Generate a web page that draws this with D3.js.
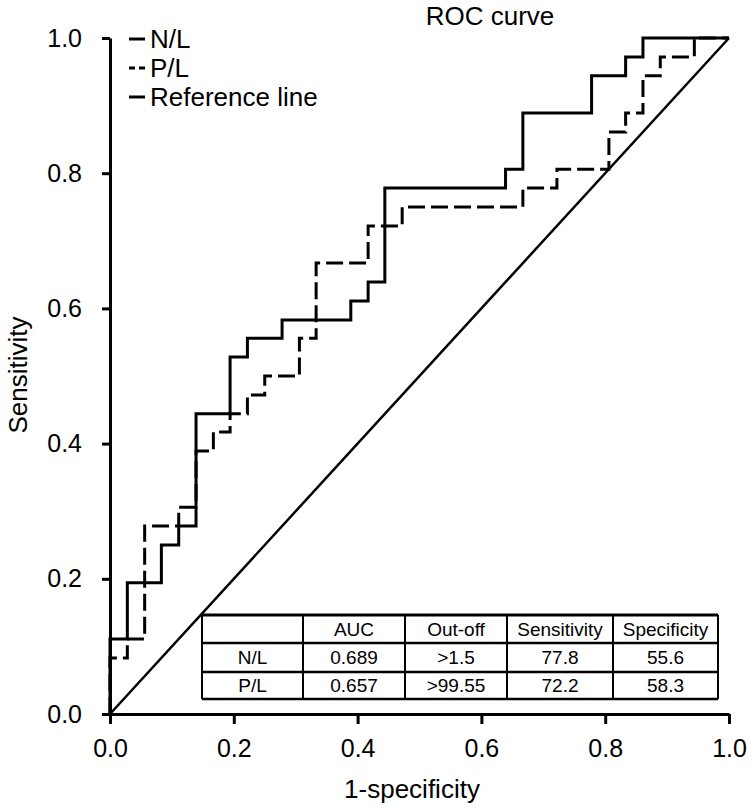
<!DOCTYPE html>
<html>
<head>
<meta charset="utf-8">
<script src="https://cdn.jsdelivr.net/npm/d3@7"></script>
<style>
  html, body { margin: 0; padding: 0; background: #fff; }
  svg { display: block; font-family: "Liberation Sans", Arial, sans-serif; }
</style>
</head>
<body>
<svg id="chart" width="755" height="808"></svg>
<script>
// ---- Data ----
const title = "ROC curve";
const xLabel = "1-specificity";
const yLabel = "Sensitivity";
const tickValues = [0, 0.2, 0.4, 0.6, 0.8, 1.0];

// N/L ROC vertices (1-specificity, sensitivity)
const nlFpr = [0, 0, 0.028, 0.028, 0.083, 0.083, 0.111, 0.111, 0.139, 0.139, 0.194, 0.194, 0.222, 0.222, 0.278, 0.278, 0.389, 0.389, 0.417, 0.417, 0.444, 0.444, 0.639, 0.639, 0.667, 0.667, 0.778, 0.778, 0.833, 0.833, 0.861, 0.861, 1.0];
const nlTpr = [0, 0.111, 0.111, 0.194, 0.194, 0.25, 0.25, 0.278, 0.278, 0.444, 0.444, 0.528, 0.528, 0.556, 0.556, 0.583, 0.583, 0.611, 0.611, 0.639, 0.639, 0.778, 0.778, 0.806, 0.806, 0.889, 0.889, 0.944, 0.944, 0.972, 0.972, 1.0, 1.0];

// P/L ROC vertices
const plFpr = [0, 0, 0.028, 0.028, 0.056, 0.056, 0.111, 0.111, 0.139, 0.139, 0.167, 0.167, 0.194, 0.194, 0.222, 0.222, 0.25, 0.25, 0.306, 0.306, 0.333, 0.333, 0.417, 0.417, 0.472, 0.472, 0.667, 0.667, 0.722, 0.722, 0.806, 0.806, 0.833, 0.833, 0.861, 0.861, 0.889, 0.889, 0.944, 0.944, 1.0];
const plTpr = [0, 0.083, 0.083, 0.111, 0.111, 0.278, 0.278, 0.306, 0.306, 0.389, 0.389, 0.417, 0.417, 0.444, 0.444, 0.472, 0.472, 0.5, 0.5, 0.556, 0.556, 0.667, 0.667, 0.722, 0.722, 0.75, 0.75, 0.778, 0.778, 0.806, 0.806, 0.861, 0.861, 0.889, 0.889, 0.944, 0.944, 0.972, 0.972, 1.0, 1.0];

// Reference line
const refX = [0, 1];
const refY = [0, 1];

const legendLabels = ["N/L", "P/L", "Reference line"];

// Table
const tableHeader = ["", "AUC", "Out-off", "Sensitivity", "Specificity"];
const tableRowNL = ["N/L", "0.689", ">1.5", "77.8", "55.6"];
const tableRowPL = ["P/L", "0.657", ">99.55", "72.2", "58.3"];

// ---- Drawing ----
const svg = d3.select("#chart");
const x = d3.scaleLinear().domain([0, 1]).range([110, 729]);
const y = d3.scaleLinear().domain([0, 1]).range([714, 38]);

const line = d3.line().x(d => x(d[0])).y(d => y(d[1]));
const zip = (a, b) => a.map((v, i) => [v, b[i]]);

// Reference diagonal
svg.append("path")
  .attr("d", line(zip(refX, refY)))
  .attr("fill", "none").attr("stroke", "#000").attr("stroke-width", 2.5);

// P/L dashed
svg.append("path")
  .attr("d", line(zip(plFpr, plTpr)))
  .attr("fill", "none").attr("stroke", "#000").attr("stroke-width", 3)
  .attr("stroke-dasharray", "17,6");

// N/L solid
svg.append("path")
  .attr("d", line(zip(nlFpr, nlTpr)))
  .attr("fill", "none").attr("stroke", "#000").attr("stroke-width", 3);

// Axes
const fmt = d3.format(".1f");
const gx = svg.append("g").attr("transform", `translate(0,${y(0)})`)
  .call(d3.axisBottom(x).tickValues(tickValues).tickFormat(fmt).tickSize(10).tickSizeOuter(0).tickPadding(15));
const gy = svg.append("g").attr("transform", `translate(${x(0)},0)`)
  .call(d3.axisLeft(y).tickValues(tickValues).tickFormat(fmt).tickSize(8).tickSizeOuter(0).tickPadding(20));
[gx, gy].forEach(g => {
  g.select(".domain").attr("stroke", "#000").attr("stroke-width", 3);
  g.selectAll(".tick line").attr("stroke", "#000").attr("stroke-width", 3);
  g.selectAll(".tick text").attr("fill", "#000").style("font-size", "25px")
    .style("font-family", "'Liberation Sans', Arial, sans-serif");
});

// Title & axis labels
svg.append("text").attr("x", 490).attr("y", 25).attr("text-anchor", "middle")
  .style("font-size", "26px").text(title);
svg.append("text").attr("x", 412).attr("y", 798).attr("text-anchor", "middle")
  .style("font-size", "26px").text(xLabel);
svg.append("text").attr("transform", "translate(27,375) rotate(-90)").attr("text-anchor", "middle")
  .style("font-size", "26px").text(yLabel);

// Legend
const legend = svg.append("g");
legendLabels.forEach((lab, i) => {
  const cy = 39 + i * 29;
  if (i === 1) {
    legend.append("line").attr("x1", 129).attr("x2", 145).attr("y1", cy).attr("y2", cy)
      .attr("stroke", "#000").attr("stroke-width", 3).attr("stroke-dasharray", "6,4");
  } else {
    legend.append("line").attr("x1", 129).attr("x2", 145).attr("y1", cy).attr("y2", cy)
      .attr("stroke", "#000").attr("stroke-width", 3);
  }
  legend.append("text").attr("x", 150).attr("y", cy).attr("dy", "0.36em")
    .style("font-size", "26px").text(lab);
});

// Table
const colX = [202, 303, 405, 507, 613, 718];
const rowY = [615, 643, 672, 699];
const rows = [tableHeader, tableRowNL, tableRowPL];
const tbl = svg.append("g");
tbl.append("rect").attr("x", colX[0]).attr("y", rowY[0])
  .attr("width", colX[5] - colX[0]).attr("height", rowY[3] - rowY[0])
  .attr("fill", "#fff");
rows.forEach((r, ri) => {
  r.forEach((cell, ci) => {
    tbl.append("text")
      .attr("x", (colX[ci] + colX[ci + 1]) / 2)
      .attr("y", (rowY[ri] + rowY[ri + 1]) / 2)
      .attr("dy", "0.36em").attr("text-anchor", "middle")
      .style("font-size", "19px").text(cell);
  });
});
rowY.forEach((yy, i) => {
  tbl.append("line").attr("x1", colX[0]).attr("x2", colX[5]).attr("y1", yy).attr("y2", yy)
    .attr("stroke", "#000").attr("stroke-width", i === 0 ? 3 : 2.5);
});
colX.forEach(xx => {
  tbl.append("line").attr("x1", xx).attr("x2", xx).attr("y1", rowY[0]).attr("y2", rowY[3])
    .attr("stroke", "#000").attr("stroke-width", 2);
});
</script>
</body>
</html>
